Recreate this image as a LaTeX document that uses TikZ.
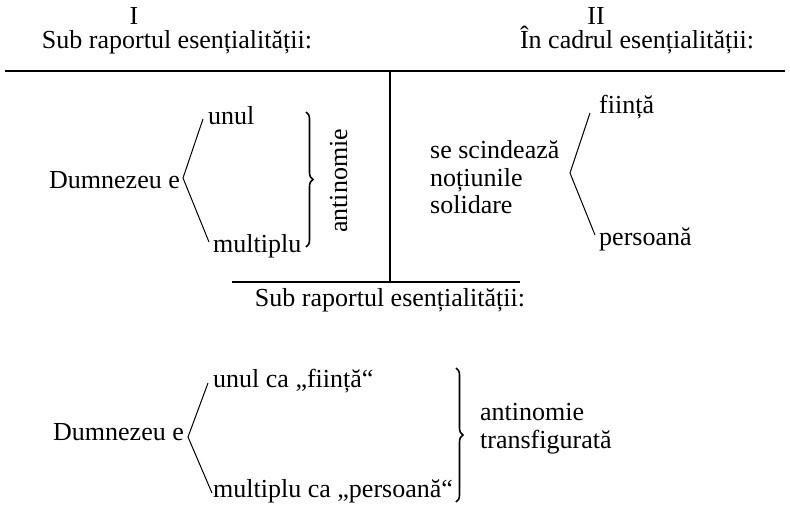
\documentclass[tikz,border=0pt]{standalone}
\usepackage{fontspec}
\setmainfont{Liberation Serif}
\usetikzlibrary{decorations.pathreplacing}
\begin{document}
\begin{tikzpicture}[x=1pt,y=-1pt,
  txt/.style={inner sep=0pt,anchor=base west,font=\fontsize{26}{28}\selectfont},
  ctxt/.style={txt,anchor=base},
  rule/.style={line width=1.2pt},
  branch/.style={line width=1pt,line join=miter},
  bracebar/.style={line width=1.6pt,decorate,decoration={brace,amplitude=7pt}}]
\useasboundingbox (0,0) rectangle (790,506);

% headings
\node[ctxt] (h1) at (134,24) {I};
\node[ctxt] (h1t) at (177,48) {Sub raportul esențialității:};
\node[ctxt] (h2) at (596,24) {II};
\node[ctxt] (h2t) at (637,48) {În cadrul esențialității:};

% frame rules
\coordinate (tl) at (5,71);
\coordinate (tr) at (785,71);
\coordinate (vt) at (390,71);
\coordinate (vb) at (390,282);
\coordinate (bl) at (232,282);
\coordinate (br) at (520,282);
\draw[rule] (tl) -- (tr);
\draw[rule] (vt) -- (vb);
\draw[rule] (bl) -- (br);
\node[ctxt] (h3) at (390,306) {Sub raportul esențialității:};

% left part: unul / multiplu
\node[txt] (d1) at (49,188) {Dumnezeu e};
\node[txt] (u1) at (208,124) {unul};
\node[txt] (m1) at (213,252) {multiplu};
\coordinate (v1) at (183,178);
\coordinate (u1e) at (203,119);
\coordinate (m1e) at (209,242);
\draw[branch] (u1e) -- (v1) -- (m1e);
\coordinate (b1t) at (306,112);
\coordinate (b1b) at (306,247);
\draw[bracebar] (b1t) -- (b1b);
\node[txt,anchor=base,rotate=90] (a1) at (347,181) {antinomie};

% right part: fiinta / persoana
\node[txt] (s1) at (430,158) {se scindează};
\node[txt] (s2) at (430,186) {noțiunile};
\node[txt] (s3) at (430,213) {solidare};
\node[txt] (f1) at (599,113) {ființă};
\node[txt] (p1) at (599,245) {persoană};
\coordinate (v2) at (570,173);
\coordinate (f1e) at (590,113);
\coordinate (p1e) at (595,235);
\draw[branch] (f1e) -- (v2) -- (p1e);

% lower part
\node[txt] (d2) at (53,440) {Dumnezeu e};
\node[txt] (u2) at (213,387) {unul ca „ființă“};
\node[txt] (m2) at (213,497) {multiplu ca „persoană“};
\coordinate (v3) at (188,437);
\coordinate (u2e) at (208,383);
\coordinate (m2e) at (212,493);
\draw[branch] (u2e) -- (v3) -- (m2e);
\coordinate (b2t) at (456,368);
\coordinate (b2b) at (456,502);
\draw[bracebar] (b2t) -- (b2b);
\node[txt] (a2) at (480,420) {antinomie};
\node[txt] (a3) at (480,448) {transfigurată};
\end{tikzpicture}
\end{document}
